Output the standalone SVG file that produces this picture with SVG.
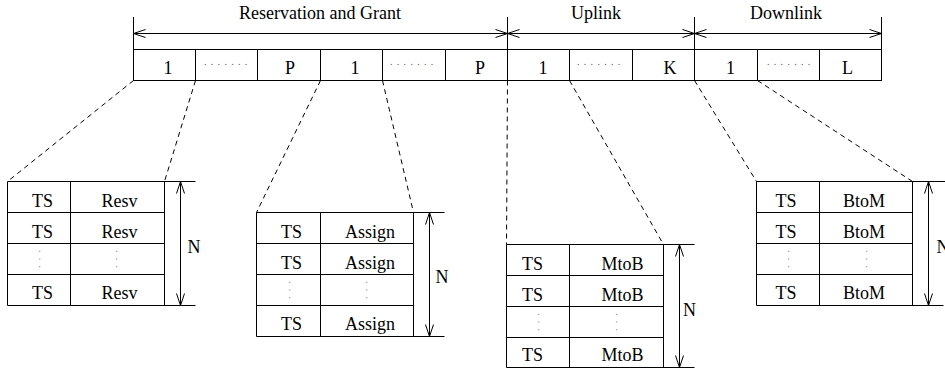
<svg xmlns="http://www.w3.org/2000/svg" width="945" height="374" viewBox="0 0 945 374">
<style>
  .ln { stroke: #000; stroke-width: 1; fill: none; }
  .dash { stroke: #000; stroke-width: 1; fill: none; stroke-dasharray: 5,4; }
  .t { font-family: "Liberation Serif", "Times New Roman", serif; font-size: 18px; fill: #000; text-anchor: middle; }
  .dots { font-family: "Liberation Serif", serif; font-size: 10px; fill: #555; letter-spacing: 4.3px; }
  .vd { font-family: "Liberation Serif", serif; font-size: 10px; fill: #777; letter-spacing: 5.3px; }
  .arr { stroke: #000; stroke-width: 1; fill: none; marker-start: url(#ah); marker-end: url(#ah); }
</style>
<defs>
  <marker id="ah" viewBox="0 0 12 8" refX="12" refY="4" markerWidth="12" markerHeight="8" orient="auto-start-reverse" markerUnits="userSpaceOnUse" overflow="visible">
    <path d="M0,0 L12,4 L0,8" fill="none" stroke="#000" stroke-width="1"/>
  </marker>
</defs>
<rect width="945" height="374" fill="#fff"/>

<g id="frame">
  <line class="ln" x1="133.5" y1="17" x2="133.5" y2="49.5"/>
  <line class="ln" x1="507.5" y1="17" x2="507.5" y2="49.5"/>
  <line class="ln" x1="694.5" y1="17" x2="694.5" y2="49.5"/>
  <line class="ln" x1="881.5" y1="17" x2="881.5" y2="49.5"/>
  <rect class="ln" x="133.5" y="49.5" width="748" height="31"/>
  <line class="ln" x1="195.5" y1="49.5" x2="195.5" y2="80.5"/>
  <line class="ln" x1="257.5" y1="49.5" x2="257.5" y2="80.5"/>
  <line class="ln" x1="320.5" y1="49.5" x2="320.5" y2="80.5"/>
  <line class="ln" x1="382.5" y1="49.5" x2="382.5" y2="80.5"/>
  <line class="ln" x1="445.5" y1="49.5" x2="445.5" y2="80.5"/>
  <line class="ln" x1="507.5" y1="49.5" x2="507.5" y2="80.5"/>
  <line class="ln" x1="569.5" y1="49.5" x2="569.5" y2="80.5"/>
  <line class="ln" x1="632.5" y1="49.5" x2="632.5" y2="80.5"/>
  <line class="ln" x1="694.5" y1="49.5" x2="694.5" y2="80.5"/>
  <line class="ln" x1="757.5" y1="49.5" x2="757.5" y2="80.5"/>
  <line class="ln" x1="819.5" y1="49.5" x2="819.5" y2="80.5"/>
  <text class="t" x="320" y="19">Reservation and Grant</text>
  <text class="t" x="596" y="19">Uplink</text>
  <text class="t" x="786" y="19">Downlink</text>
  <text class="t" x="168" y="74">1</text>
  <text class="dots" x="204" y="65">.......</text>
  <text class="t" x="290" y="74">P</text>
  <text class="t" x="355" y="74">1</text>
  <text class="dots" x="390" y="65">.......</text>
  <text class="t" x="480" y="74">P</text>
  <text class="t" x="543" y="74">1</text>
  <text class="dots" x="577" y="65">.......</text>
  <text class="t" x="670" y="74">K</text>
  <text class="t" x="730.5" y="74">1</text>
  <text class="dots" x="767" y="65">.......</text>
  <text class="t" x="847.5" y="74">L</text>
</g>

<g id="connectors">
  <line class="arr" x1="133.5" y1="33.5" x2="507.5" y2="33.5"/>
  <line class="arr" x1="507.5" y1="33.5" x2="694.5" y2="33.5"/>
  <line class="arr" x1="694.5" y1="33.5" x2="881.5" y2="33.5"/>
  <line class="dash" x1="133.5" y1="80.5" x2="7.5" y2="181.5"/>
  <line class="dash" x1="195.5" y1="80.5" x2="164.5" y2="181.5"/>
  <line class="dash" x1="320.5" y1="80.5" x2="256.5" y2="212.5"/>
  <line class="dash" x1="382.5" y1="80.5" x2="413.5" y2="212.5"/>
  <line class="dash" x1="507.5" y1="80.5" x2="506.5" y2="244.5"/>
  <line class="dash" x1="569.5" y1="80.5" x2="663.5" y2="244.5"/>
  <line class="dash" x1="694.5" y1="80.5" x2="756.5" y2="181.5"/>
  <line class="dash" x1="757.5" y1="80.5" x2="912.5" y2="181.5"/>
  <line class="arr" x1="180.5" y1="181.5" x2="180.5" y2="305.5"/>
  <line class="arr" x1="429.5" y1="212.5" x2="429.5" y2="336.5"/>
  <line class="arr" x1="679.5" y1="244.5" x2="679.5" y2="367.5"/>
  <line class="arr" x1="928.5" y1="181.5" x2="928.5" y2="305.5"/>
</g>

<g id="table-resv">
  <line class="ln" x1="7.5" y1="181.5" x2="195.5" y2="181.5"/>
  <line class="ln" x1="7.5" y1="305.5" x2="195.5" y2="305.5"/>
  <line class="ln" x1="7.5" y1="212.5" x2="164.5" y2="212.5"/>
  <line class="ln" x1="7.5" y1="243.5" x2="164.5" y2="243.5"/>
  <line class="ln" x1="7.5" y1="274.5" x2="164.5" y2="274.5"/>
  <line class="ln" x1="7.5" y1="181.5" x2="7.5" y2="305.5"/>
  <line class="ln" x1="70.5" y1="181.5" x2="70.5" y2="305.5"/>
  <line class="ln" x1="164.5" y1="181.5" x2="164.5" y2="305.5"/>
  <text class="t" x="42.5" y="206.5">TS</text><text class="t" x="119.5" y="206.5">Resv</text>
  <text class="t" x="42.5" y="237.5">TS</text><text class="t" x="119.5" y="237.5">Resv</text>
  <text class="vd" transform="translate(39,250) rotate(90)">...</text>
  <text class="vd" transform="translate(116,250) rotate(90)">...</text>
  <text class="t" x="42.5" y="299">TS</text><text class="t" x="119.5" y="299">Resv</text>
  <text class="t" x="194" y="253">N</text>
</g>

<g id="table-assign">
  <line class="ln" x1="256.5" y1="212.5" x2="444.5" y2="212.5"/>
  <line class="ln" x1="256.5" y1="336.5" x2="444.5" y2="336.5"/>
  <line class="ln" x1="256.5" y1="243.5" x2="413.5" y2="243.5"/>
  <line class="ln" x1="256.5" y1="274.5" x2="413.5" y2="274.5"/>
  <line class="ln" x1="256.5" y1="305.5" x2="413.5" y2="305.5"/>
  <line class="ln" x1="256.5" y1="212.5" x2="256.5" y2="336.5"/>
  <line class="ln" x1="320.5" y1="212.5" x2="320.5" y2="336.5"/>
  <line class="ln" x1="413.5" y1="212.5" x2="413.5" y2="336.5"/>
  <text class="t" x="291.5" y="237.5">TS</text><text class="t" x="370" y="237.5">Assign</text>
  <text class="t" x="291.5" y="268.5">TS</text><text class="t" x="370" y="268.5">Assign</text>
  <text class="vd" transform="translate(288.5,281) rotate(90)">...</text>
  <text class="vd" transform="translate(365.5,281) rotate(90)">...</text>
  <text class="t" x="291.5" y="330">TS</text><text class="t" x="370" y="330">Assign</text>
  <text class="t" x="442" y="283">N</text>
</g>

<g id="table-mtob">
  <line class="ln" x1="506.5" y1="244.5" x2="694.5" y2="244.5"/>
  <line class="ln" x1="506.5" y1="367.5" x2="694.5" y2="367.5"/>
  <line class="ln" x1="506.5" y1="275.5" x2="663.5" y2="275.5"/>
  <line class="ln" x1="506.5" y1="306.5" x2="663.5" y2="306.5"/>
  <line class="ln" x1="506.5" y1="337.5" x2="663.5" y2="337.5"/>
  <line class="ln" x1="506.5" y1="244.5" x2="506.5" y2="367.5"/>
  <line class="ln" x1="569.5" y1="244.5" x2="569.5" y2="367.5"/>
  <line class="ln" x1="663.5" y1="244.5" x2="663.5" y2="367.5"/>
  <text class="t" x="532.5" y="269.5">TS</text><text class="t" x="622.5" y="269.5">MtoB</text>
  <text class="t" x="532.5" y="300.5">TS</text><text class="t" x="622.5" y="300.5">MtoB</text>
  <text class="vd" transform="translate(537.5,313) rotate(90)">...</text>
  <text class="vd" transform="translate(615.5,313) rotate(90)">...</text>
  <text class="t" x="532.5" y="361">TS</text><text class="t" x="622.5" y="361">MtoB</text>
  <text class="t" x="689.5" y="316">N</text>
</g>

<g id="table-btom">
  <line class="ln" x1="756.5" y1="181.5" x2="945" y2="181.5"/>
  <line class="ln" x1="756.5" y1="305.5" x2="943.5" y2="305.5"/>
  <line class="ln" x1="756.5" y1="212.5" x2="912.5" y2="212.5"/>
  <line class="ln" x1="756.5" y1="243.5" x2="912.5" y2="243.5"/>
  <line class="ln" x1="756.5" y1="274.5" x2="912.5" y2="274.5"/>
  <line class="ln" x1="756.5" y1="181.5" x2="756.5" y2="305.5"/>
  <line class="ln" x1="819.5" y1="181.5" x2="819.5" y2="305.5"/>
  <line class="ln" x1="912.5" y1="181.5" x2="912.5" y2="305.5"/>
  <text class="t" x="786" y="206.5">TS</text><text class="t" x="864" y="206.5">BtoM</text>
  <text class="t" x="786" y="237.5">TS</text><text class="t" x="864" y="237.5">BtoM</text>
  <text class="vd" transform="translate(787.5,250) rotate(90)">...</text>
  <text class="vd" transform="translate(865.5,250) rotate(90)">...</text>
  <text class="t" x="786" y="299">TS</text><text class="t" x="864" y="299">BtoM</text>
  <text class="t" x="936.5" y="253" style="text-anchor:start">N</text>
</g>
</svg>
